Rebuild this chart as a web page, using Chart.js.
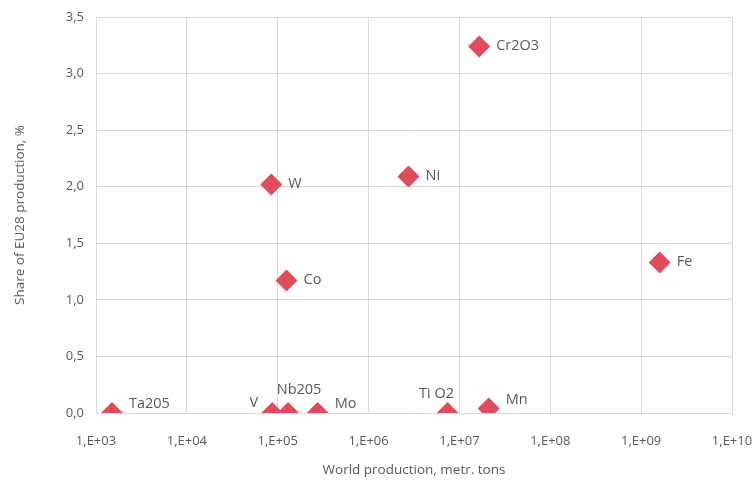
<!DOCTYPE html>
<html>
<head>
<meta charset="utf-8">
<script src="https://cdn.jsdelivr.net/npm/chart.js@4"></script>
<style>
  html, body { margin: 0; padding: 0; background: #fff; }
  #wrap { width: 755px; height: 482px; }
</style>
</head>
<body>
<div id="wrap"><canvas id="chart"></canvas></div>
<script>
// data
const metals = ['Ta205', 'V', 'Nb205', 'Mo', 'Ti O2', 'Mn', 'W', 'Co', 'Ni', 'Cr2O3', 'Fe'];
const worldProduction = [1.5e3, 8.7e4, 1.3e5, 2.75e5, 7.4e6, 2.1e7, 8.5e4, 1.25e5, 2.75e6, 1.65e7, 1.6e9];
const euShare = [0, 0, 0, 0, 0, 0.04, 2.02, 1.17, 2.09, 3.24, 1.33];
const xTickPowers = [3, 4, 5, 6, 7, 8, 9, 10];

// where each label sits relative to its marker
const labelSide = ['upright', 'left', 'above', 'upright', 'aboveleft', 'upright', 'right', 'right', 'right', 'right', 'right'];

const RED = '#e04b5d';
const TEXT = '#595959';
const GRID = '#d9d9d9';
const FONT = "'Open Sans', 'Noto Sans', sans-serif";

const pointLabels = {
    id: 'pointLabels',
    afterDatasetsDraw(chart) {
        const ctx = chart.ctx;
        const meta = chart.getDatasetMeta(0);
        ctx.save();
        ctx.font = '14.5px ' + FONT;
        ctx.fillStyle = TEXT;
        ctx.textBaseline = 'middle';
        meta.data.forEach((pt, i) => {
            let x = pt.x, y = pt.y;
            let align = 'left';
            switch (labelSide[i]) {
                case 'left': x -= 14; y -= 10; align = 'right'; break;
                case 'above': x += 11; y -= 23; align = 'center'; break;
                case 'aboveleft': x -= 11; y -= 19; align = 'center'; break;
                case 'upright': x += 17; y -= 9; break;
                default: x += 17; y -= 1;
            }
            ctx.textAlign = align;
            ctx.fillText(metals[i], x, y);
        });
        ctx.restore();
    }
};

new Chart(document.getElementById('chart'), {
    type: 'scatter',
    data: {
        datasets: [{
            data: worldProduction.map((v, i) => ({ x: v, y: euShare[i] })),
            pointStyle: 'rectRot',
            pointRadius: 11,
            pointHoverRadius: 11,
            backgroundColor: RED,
            borderColor: RED,
            borderWidth: 0
        }]
    },
    plugins: [pointLabels],
    options: {
        responsive: true,
        maintainAspectRatio: false,
        animation: false,
        layout: { padding: { left: 8, right: 23, top: 17, bottom: 0 } },
        plugins: { legend: { display: false }, tooltip: { enabled: false } },
        scales: {
            x: {
                type: 'logarithmic',
                min: 1e3,
                max: 1e10,
                afterBuildTicks(scale) {
                    scale.ticks = xTickPowers.map(p => ({ value: Math.pow(10, p) }));
                },
                afterFit(scale) {
                    scale.height = 69;
                    scale.paddingLeft = 0;
                    scale.paddingRight = 0;
                },
                ticks: {
                    color: TEXT,
                    font: { family: FONT, size: 13 },
                    padding: 20,
                    maxRotation: 0,
                    autoSkip: false,
                    callback: (v) => {
                        const p = Math.round(Math.log10(v));
                        return '1,E+' + String(p).padStart(2, '0');
                    }
                },
                grid: { color: GRID, lineWidth: 1, drawTicks: false },
                border: { color: GRID },
                title: {
                    display: true,
                    text: 'World production, metr. tons',
                    color: TEXT,
                    font: { family: FONT, size: 13.5 },
                    padding: { top: 8 }
                }
            },
            y: {
                min: 0,
                max: 3.5,
                afterFit(scale) {
                    scale.width = 88;
                    scale.paddingTop = 0;
                    scale.paddingBottom = 0;
                },
                ticks: {
                    stepSize: 0.5,
                    color: TEXT,
                    font: { family: FONT, size: 13 },
                    padding: 12,
                    callback: (v) => v.toFixed(1).replace('.', ',')
                },
                grid: { color: GRID, lineWidth: 1, drawTicks: false },
                border: { color: GRID },
                title: {
                    display: true,
                    text: 'Share of EU28 production, %',
                    color: TEXT,
                    font: { family: FONT, size: 13.5 }
                }
            }
        }
    }
});
</script>
</body>
</html>
